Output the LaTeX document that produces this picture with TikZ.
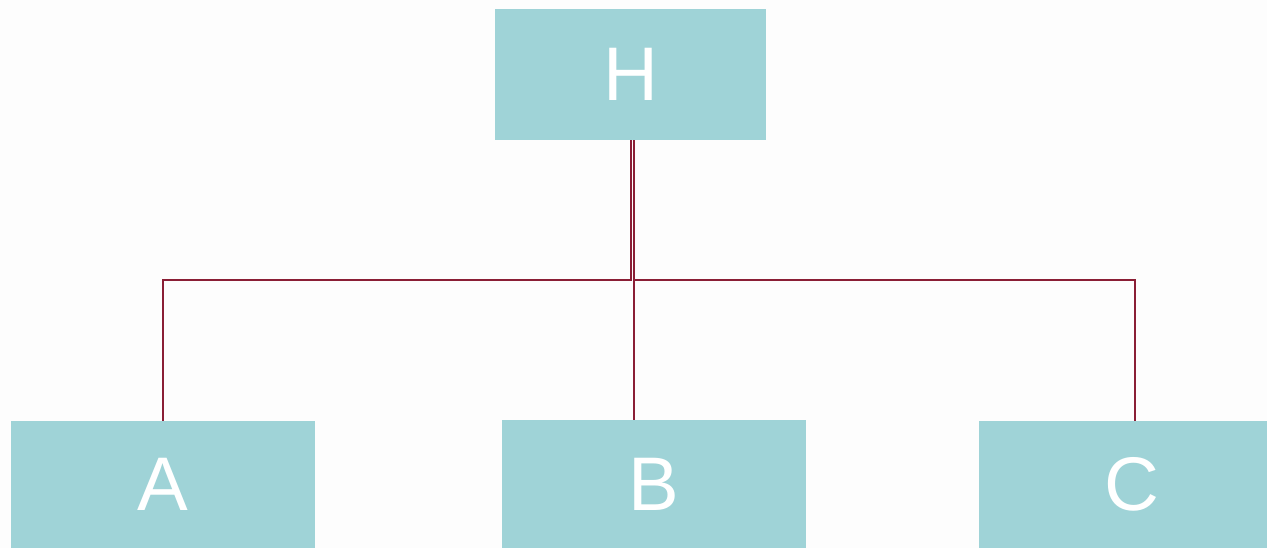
\documentclass[tikz,border=0pt]{standalone}
\usepackage{fontspec}
\setmainfont{Liberation Sans}
\definecolor{boxfill}{HTML}{9FD3D7}
\definecolor{linecol}{HTML}{8A1E35}
\definecolor{bgcol}{HTML}{FDFDFD}
\tikzset{
  orgbox/.style={fill=boxfill, draw=none, inner sep=0pt, text=white,
    font=\fontsize{38}{40}\selectfont},
  link/.style={draw=linecol, line width=1pt}
}
\begin{document}
\begin{tikzpicture}[x=0.5pt, y=-0.5pt]
\useasboundingbox (0,0) rectangle (1267,548);
\clip (0,0) rectangle (1267,548);
\fill[bgcol] (0,0) rectangle (1267,548);
% boxes
\node[orgbox, minimum width=135.5pt, minimum height=65.5pt] (H) at (630.5,74.5) {H};
\node[orgbox, minimum width=152pt, minimum height=63.5pt] (A) at (163,484.5) {\raisebox{-1pt}{A}};
\node[orgbox, minimum width=152pt, minimum height=64pt] (B) at (654,484) {\raisebox{-1pt}{B}};
\node[orgbox, minimum width=153pt, minimum height=63.5pt] (C) at (1132,484.5) {\raisebox{-1pt}{C}};
% connectors
\coordinate (hl) at (630.5,140);
\coordinate (hr) at (634,140);
\draw[link] (hl) -- (630.5,280) -| (A.north -| 163,0);
\draw[link] (hr) -- (B.north -| hr);
\draw[link] (634,280) -| (C.north -| 1135,0);
\end{tikzpicture}
\end{document}
